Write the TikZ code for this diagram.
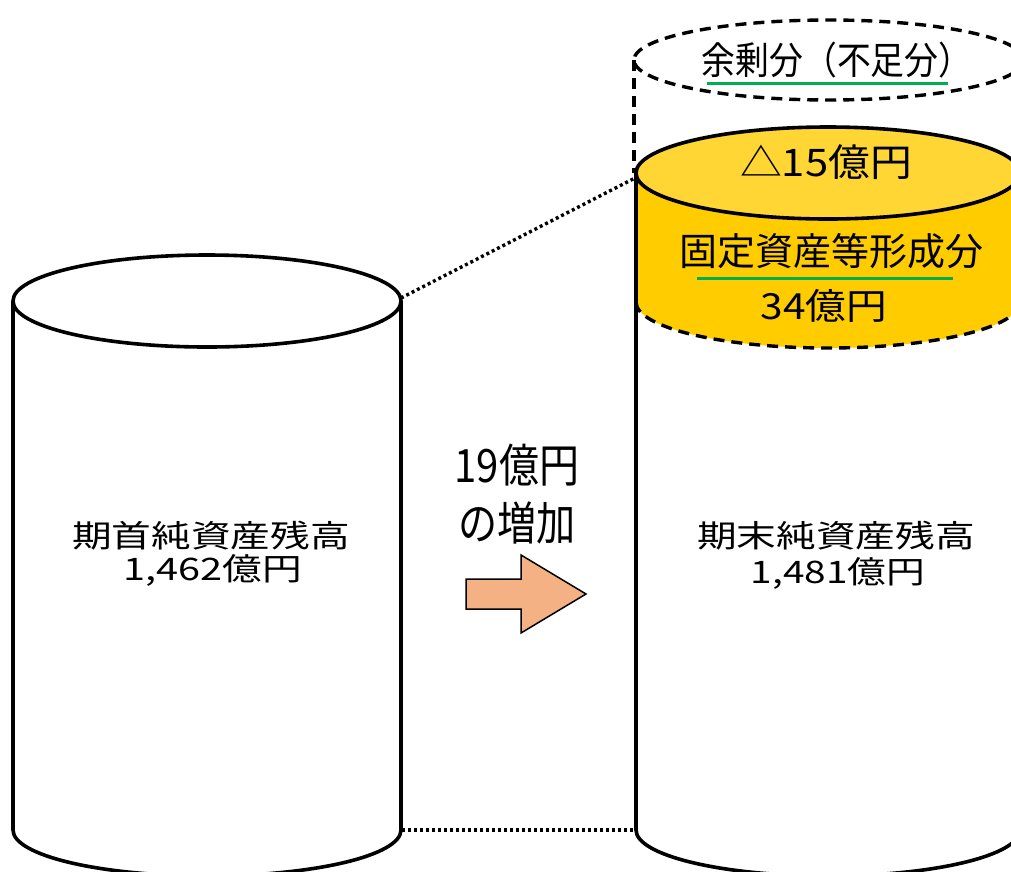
\documentclass[tikz,border=0pt]{standalone}
\usepackage{fontspec}
\usepackage{graphicx}
\newfontfamily\jp{Noto Sans CJK JP}
\definecolor{ylw}{HTML}{FFCC00}
\definecolor{ylwtop}{HTML}{FFD633}
\definecolor{grn}{HTML}{00B050}
\definecolor{arrowfill}{HTML}{F4B183}
\newcommand{\sx}[2]{\scalebox{#1}[1]{#2}}
\begin{document}
\begin{tikzpicture}[x=1pt,y=-1pt,
  outline/.style={line width=3.6pt, draw=black},
  dashline/.style={line width=3.4pt, draw=black, dash pattern=on 11pt off 7pt},
  dotline/.style={line width=3.4pt, draw=black, dash pattern=on 3pt off 3pt},
  uline/.style={line width=3pt, draw=grn},
  lbl/.style={inner sep=0pt, font=\jp\fontsize{31}{31}\selectfont},
  big/.style={inner sep=0pt, font=\jp\fontsize{46}{46}\selectfont},
  mid/.style={inner sep=0pt, font=\jp\fontsize{38}{38}\selectfont},
  sml/.style={inner sep=0pt, font=\jp\fontsize{36}{36}\selectfont}]
\useasboundingbox[fill=white] (0,0) rectangle (1011,871);
% left cylinder
\draw[outline, fill=white] (13,301) -- (13,830) arc[start angle=180,end angle=0,x radius=194,y radius=46] -- (401,301);
\draw[outline, fill=white] (207,301) ellipse[x radius=194, y radius=46];
% right cylinder: white body
\draw[outline, fill=white] (636,302) -- (636,830) arc[start angle=180,end angle=0,x radius=192,y radius=46] -- (1020,302);
% yellow part
\fill[ylw] (636,173) -- (636,302) arc[start angle=180,end angle=0,x radius=192,y radius=46] -- (1020,173) -- cycle;
\draw[dashline] (636,302) arc[start angle=180,end angle=0,x radius=192,y radius=46];
\draw[outline] (636,173) -- (636,302);
\draw[outline] (1020,173) -- (1020,302);
% dashed top
\draw[dashline] (829,60) ellipse[x radius=195, y radius=40];
\draw[dashline] (634,60) -- (634,173);
\draw[dashline] (1024,60) -- (1024,173);
% yellow top
\draw[outline, fill=ylwtop] (828,173) ellipse[x radius=192, y radius=46];
% dotted connectors
\coordinate (LTe) at (401,298);
\coordinate (RTw) at (635,178);
\coordinate (LBe) at (402,830);
\coordinate (RBw) at (635,830);
\draw[dotline] (LTe) -- (RTw);
\draw[dotline] (LBe) -- (RBw);
% arrow
\draw[line width=1.5pt, fill=arrowfill] (466,579) -- (521,579) -- (521,555) -- (586,594) -- (521,633) -- (521,609) -- (466,609) -- cycle;
% texts
\node[lbl] (l1) at (211,536) {\sx{1.28}{期首純資産残高}};
\node[lbl] (l2) at (213,570) {\sx{1.28}{1,462億円}};
\node[lbl] (r1) at (836,536) {\sx{1.28}{期末純資産残高}};
\node[lbl] (r2) at (838,573) {\sx{1.25}{1,481億円}};
\node[big] (g1) at (517,465) {\sx{0.87}{19億円}};
\node[big] (g2) at (517,523) {\sx{0.85}{の増加}};
\node[mid] (d1) at (826,162) {\sx{1.1}{△15億円}};
\node[mid] (k1) at (831,251) {\sx{1.0}{固定資産等形成分}};
\node[sml] (k2) at (824,306) {\sx{1.13}{34億円}};
\node[mid] (s1) at (837,60) {\sx{0.89}{余剰分（不足分）}};
\draw[uline] (707,83) -- (948,83);
\draw[uline] (697,278) -- (953,278);
\end{tikzpicture}
\end{document}
